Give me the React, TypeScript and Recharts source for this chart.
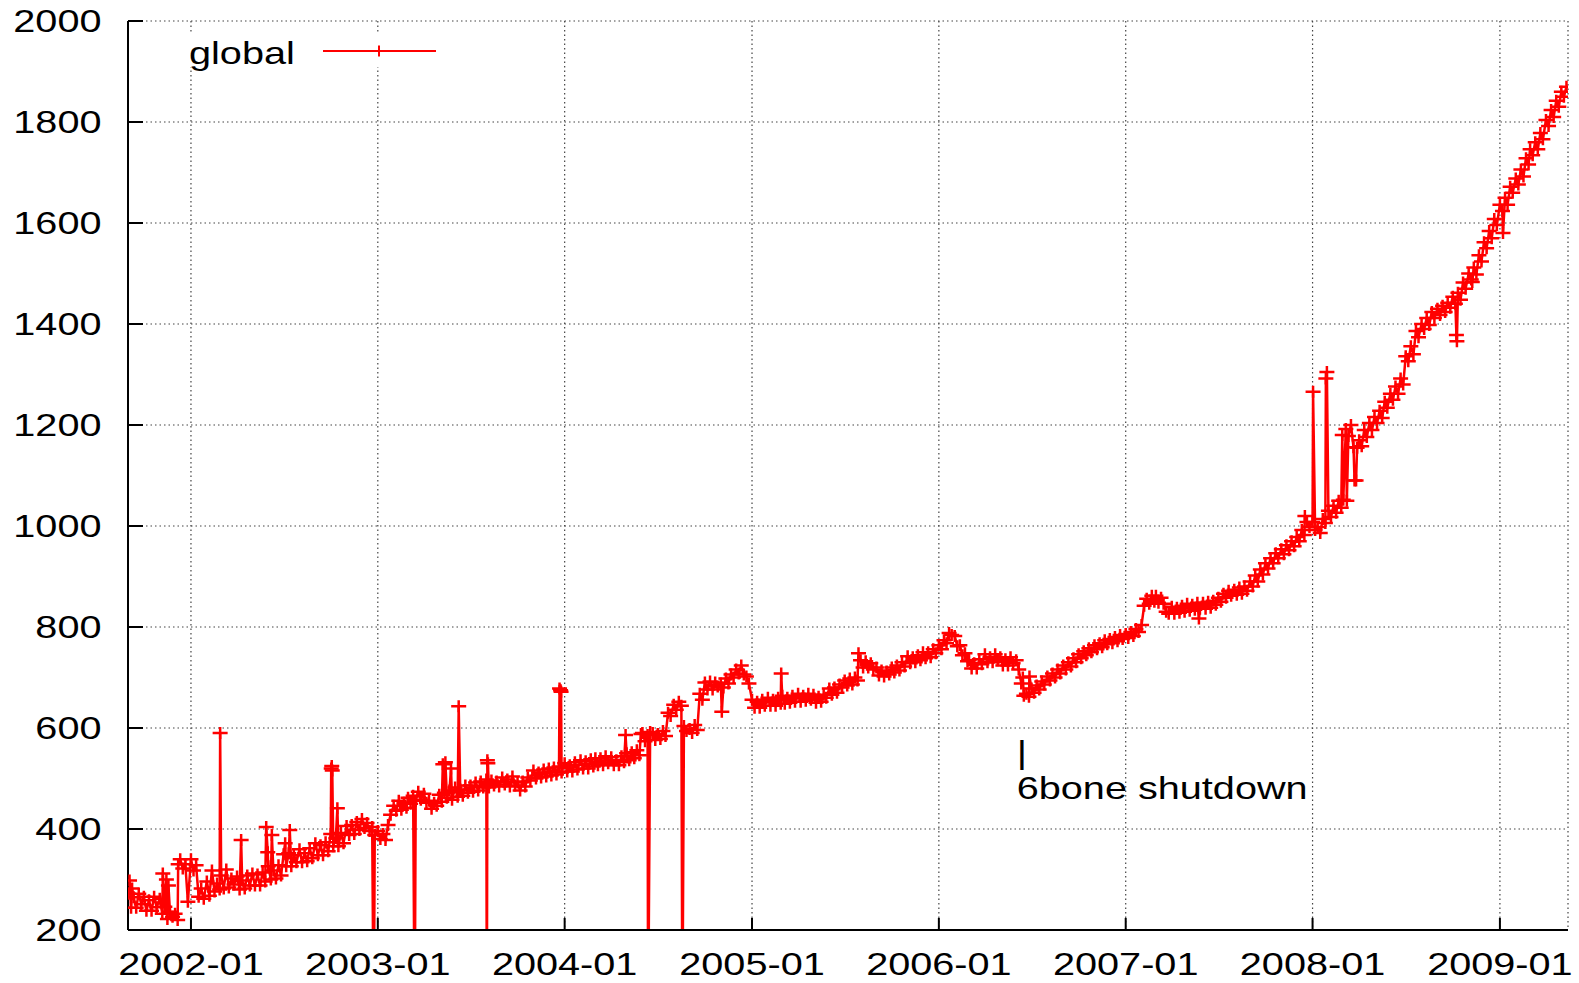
import { CartesianGrid, Legend, Line, LineChart, ReferenceDot, XAxis, YAxis } from 'recharts';

const W = 1579;
const H = 983;
const FONT = '"Liberation Sans", Arial, Helvetica, sans-serif';
const FONT_SIZE = 30.5;
const STRETCH = 1.3; // the source picture is stretched sideways, text included
const RED = '#ff0000';

// readings on the 1st, 6th, 11th, 16th, 21st and 26th of every month
const SLOT_DAYS = [1, 6, 11, 16, 21, 26];

const v2001 = [ // Sep-Dec
  272, 244, 265, 244, 272, 251, 266, 238, 259, 238, 266, 245,
  262, 232, 246, 222, 236, 226, 232, 220, 340, 322, 330, 256,
];
const v2002 = [
  340, 318, 328, 266, 282, 262, 296, 268, 318, 276, 292, 280,
  308, 282, 320, 284, 302, 290, 306, 280, 298, 282, 308, 288,
  312, 288, 310, 288, 314, 296, 326, 300, 318, 302, 328, 308,
  350, 326, 352, 326, 348, 334, 360, 334, 352, 336, 362, 342,
  372, 348, 368, 348, 374, 356, 390, 366, 382, 366, 392, 372,
  406, 388, 408, 390, 414, 398, 420, 402, 412, 396, 404, 388,
];
const v2003 = [
  396, 380, 390, 378, 408, 428, 446, 436, 456, 438, 452, 442,
  462, 450, 466, 456, 474, 458, 470, 452, 456, 440, 452, 446,
  468, 454, 472, 462, 476, 458, 482, 464, 478, 466, 486, 472,
  486, 474, 492, 476, 494, 482, 498, 482, 496, 486, 494, 484,
  502, 488, 498, 484, 504, 486, 492, 476, 494, 484, 502, 496,
  516, 500, 512, 502, 518, 504, 520, 506, 522, 508, 524, 512,
];
const v2004 = [
  530, 514, 526, 514, 532, 518, 536, 520, 534, 520, 538, 524,
  540, 526, 540, 526, 544, 530, 542, 526, 536, 526, 544, 532,
  550, 536, 552, 540, 556, 546, 590, 574, 586, 592, 590, 576,
  588, 578, 594, 584, 630, 624, 646, 636, 652, 644, 604, 594,
  598, 590, 606, 596, 668, 656, 690, 676, 692, 676, 690, 682,
  688, 680, 698, 688, 706, 700, 716, 708, 724, 706, 702, 688,
];
const v2005 = [
  656, 640, 652, 640, 656, 644, 660, 644, 656, 644, 660, 648,
  664, 648, 660, 650, 664, 652, 668, 652, 664, 654, 668, 656,
  666, 650, 662, 652, 666, 660, 678, 666, 680, 670, 686, 680,
  694, 684, 698, 686, 700, 694, 734, 720, 732, 720, 728, 716,
  720, 704, 714, 702, 712, 706, 720, 710, 724, 714, 730, 722,
  742, 728, 740, 730, 744, 734, 750, 738, 750, 740, 756, 748,
];
const v2006 = [
  764, 756, 774, 768, 788, 784, 782, 762, 764, 744, 748, 732,
  734, 718, 728, 718, 736, 726, 746, 730, 740, 730, 746, 734,
  740, 724, 736, 724, 740, 728, 734, 716, 688, 664, 668, 662,
  678, 670, 684, 676, 692, 686, 702, 694, 708, 700, 716, 708,
  724, 716, 730, 722, 738, 730, 746, 738, 752, 744, 758, 750,
  764, 756, 768, 760, 774, 766, 776, 768, 780, 772, 784, 776,
];
const v2007 = [
  786, 778, 790, 782, 796, 790, 804, 842, 856, 846, 862, 850,
  862, 848, 858, 846, 830, 826, 840, 826, 838, 828, 842, 830,
  846, 832, 844, 834, 848, 836, 848, 836, 850, 838, 852, 844,
  858, 850, 866, 858, 872, 862, 874, 864, 878, 866, 880, 872,
  890, 880, 902, 890, 914, 904, 926, 916, 936, 926, 946, 936,
  954, 944, 962, 952, 970, 960, 978, 970, 992, 982, 1008, 998,
];
const v2008 = [
  1008, 992, 998, 986, 1014, 1006, 1030, 1018, 1040, 1026, 1050, 1036,
  1052, 1192, 1178, 1200, 1156, 1090, 1170, 1158, 1190, 1176, 1204, 1190,
  1216, 1204, 1228, 1214, 1246, 1234, 1262, 1250, 1276, 1262, 1292, 1280,
  1336, 1326, 1356, 1340, 1386, 1374, 1400, 1390, 1412, 1398, 1424, 1412,
  1430, 1418, 1436, 1424, 1442, 1432, 1454, 1440, 1462, 1448, 1482, 1470,
  1500, 1488, 1512, 1498, 1536, 1524, 1562, 1550, 1584, 1570, 1608, 1596,
];
const v2009 = [ // Jan-May
  1636, 1624, 1650, 1636, 1672, 1660, 1688, 1676, 1706, 1692, 1728, 1716,
  1746, 1734, 1760, 1746, 1778, 1766, 1804, 1792, 1824, 1810, 1842, 1830,
  1860, 1850, 1870,
];

// single-day outliers, plateaus and drop-outs
const outlierDates = [
  '2001-09-03', '2001-09-08', '2001-11-07', '2001-11-14', '2001-11-18', '2001-12-07',
  '2002-02-27', '2002-04-09', '2002-05-28', '2002-05-31', '2002-06-08', '2002-07-04', '2002-07-13',
  '2002-10-02', '2002-10-03', '2002-10-04', '2002-10-14', '2002-12-24',
  '2003-03-14', '2003-05-08', '2003-05-13', '2003-05-24', '2003-06-08',
  '2003-08-02', '2003-08-03', '2003-08-04', '2003-12-22', '2003-12-24', '2003-12-25',
  '2004-04-29', '2004-05-29', '2004-06-12', '2004-08-18', '2004-11-03',
  '2005-02-27', '2005-07-28', '2006-06-14', '2006-06-27',
  '2007-05-24', '2007-12-17',
  '2008-01-02', '2008-01-27', '2008-01-29', '2008-02-28', '2008-03-08',
  '2008-03-23', '2008-03-28', '2008-10-08', '2008-10-09', '2008-11-08',
  '2009-01-07',
];
const outlierValues = [
  298, 282, 312, 300, 288, 330,
  590, 378, 404, 354, 388, 372, 398,
  520, 525, 516, 441, 0,
  0, 528, 532, 520, 643,
  0, 536, 530, 678, 675, 672,
  586, 588, 0, 0, 632,
  708, 748, 700, 702,
  817, 1020,
  1266, 1292, 1305, 1180, 1050,
  1090, 1155, 1378, 1366, 1483,
  1580,
];

const yearTicks = ['2002-01', '2003-01', '2004-01', '2005-01', '2006-01', '2007-01', '2008-01', '2009-01'];
const valueTicks = [200, 400, 600, 800, 1000, 1200, 1400, 1600, 1800, 2000];

const yearly: [number, number, number[]][] = [
  [2001, 8, v2001], [2002, 0, v2002], [2003, 0, v2003], [2004, 0, v2004], [2005, 0, v2005],
  [2006, 0, v2006], [2007, 0, v2007], [2008, 0, v2008], [2009, 0, v2009],
];

const perMonth = SLOT_DAYS.length;
const base = yearly.flatMap(([year, firstMonth, values]) =>
  values.map((v, i) => ({
    t: Date.UTC(year, firstMonth + Math.floor(i / perMonth), SLOT_DAYS[i % perMonth]),
    v,
  })),
);
const extra = outlierDates.map((d, i) => ({ t: Date.parse(d), v: outlierValues[i] }));
const data = [...base, ...extra].sort((a, b) => a.t - b.t);

const tickTimes = yearTicks.map((s) => Date.parse(`${s}-01`));
const domainX = [Date.parse('2001-08-31'), Date.parse('2009-05-14')];

function StretchedText({ x, y, anchor = 'start', children }: any) {
  return (
    <text
      transform={`translate(${x},${y}) scale(${STRETCH},1)`}
      textAnchor={anchor}
      fontFamily={FONT}
      fontSize={FONT_SIZE}
      fill="#000"
    >
      {children}
    </text>
  );
}

// gnuplot style: tick marks point into the plot
function ValueTick({ x, y, payload }: any) {
  return (
    <g>
      <line x1={x - 15} x2={x} y1={y} y2={y} stroke="#000" strokeWidth={2} />
      <StretchedText x={x - 41.5} y={y + 11} anchor="end">{payload.value}</StretchedText>
    </g>
  );
}

function DateTick({ x, y, payload }: any) {
  const label = new Date(payload.value).toISOString().slice(0, 7);
  return (
    <g>
      <line x1={x} x2={x} y1={y} y2={y + 12} stroke="#000" strokeWidth={2} />
      <StretchedText x={x} y={y + 57} anchor="middle">{label}</StretchedText>
    </g>
  );
}

function TopTick({ x, y }: any) {
  return <line x1={x} x2={x} y1={y - 12} y2={y} stroke="#000" strokeWidth={2} />;
}

function RightTick({ x, y }: any) {
  return <line x1={x} x2={x + 15} y1={y} y2={y} stroke="#000" strokeWidth={2} />;
}

function PlusDot({ cx, cy, index }: any) {
  if (cx == null || cy == null) return <g key={index} />;
  return (
    <path
      key={index}
      d={`M${cx - 7.5},${cy}h15M${cx},${cy - 6}v12`}
      stroke={RED}
      strokeWidth={2.5}
      fill="none"
    />
  );
}

function Note({ cx, cy }: any) {
  return (
    <g>
      <StretchedText x={cx - 2} y={cy + 25}>|</StretchedText>
      <StretchedText x={cx - 2} y={cy + 61}>6bone shutdown</StretchedText>
    </g>
  );
}

function KeyBox() {
  return (
    <svg width={300} height={42} style={{ display: 'block', overflow: 'visible' }}>
      <rect x={0} y={0} width={300} height={33} fill="#fff" />
      <StretchedText x={39} y={29.5}>global</StretchedText>
      <line x1={173} x2={286} y1={17} y2={17} stroke={RED} strokeWidth={2} />
      <path d="M222,17h14M229,11.5v11" stroke={RED} strokeWidth={2} fill="none" />
    </svg>
  );
}

const axisLine = { stroke: '#000', strokeWidth: 2 };

export default function App() {
  return (
    <div style={{ position: 'absolute', left: 0, top: 0, width: W, height: H, background: '#fff' }}>
      <LineChart width={W} height={H} data={data} margin={{ top: 21, right: 11, bottom: 0, left: 0 }}>
        <CartesianGrid stroke="#444" strokeDasharray="1.5 3" strokeWidth={1.2} />
        <XAxis
          dataKey="t"
          type="number"
          domain={domainX}
          ticks={tickTimes}
          allowDataOverflow
          height={53}
          axisLine={axisLine}
          tickLine={false}
          tickSize={-12}
          tickMargin={0}
          tick={(p: any) => <DateTick {...p} />}
        />
        <XAxis
          xAxisId="top"
          orientation="top"
          type="number"
          domain={domainX}
          ticks={tickTimes}
          allowDataOverflow
          height={0}
          axisLine={axisLine}
          tickLine={false}
          tickSize={-12}
          tickMargin={0}
          tick={(p: any) => <TopTick {...p} />}
        />
        <YAxis
          type="number"
          domain={[200, 2000]}
          ticks={valueTicks}
          allowDataOverflow
          width={128}
          axisLine={axisLine}
          tickLine={false}
          tickSize={-15}
          tickMargin={0}
          tick={(p: any) => <ValueTick {...p} />}
        />
        <YAxis
          yAxisId="right"
          orientation="right"
          type="number"
          domain={[200, 2000]}
          ticks={valueTicks}
          allowDataOverflow
          width={0}
          axisLine={axisLine}
          tickLine={false}
          tickSize={-15}
          tickMargin={0}
          tick={(p: any) => <RightTick {...p} />}
        />
        <Legend
          verticalAlign="middle"
          align="center"
          wrapperStyle={{ left: 150, top: 34, width: 300, height: 33 }}
          content={() => <KeyBox />}
        />
        <Line
          type="linear"
          dataKey="v"
          stroke={RED}
          strokeWidth={2.5}
          dot={(p: any) => <PlusDot key={p.index} {...p} />}
          activeDot={false}
          isAnimationActive={false}
        />
        <ReferenceDot x={Date.parse('2006-06-06')} y={580} r={0} shape={(p: any) => <Note {...p} />} />
      </LineChart>
    </div>
  );
}
